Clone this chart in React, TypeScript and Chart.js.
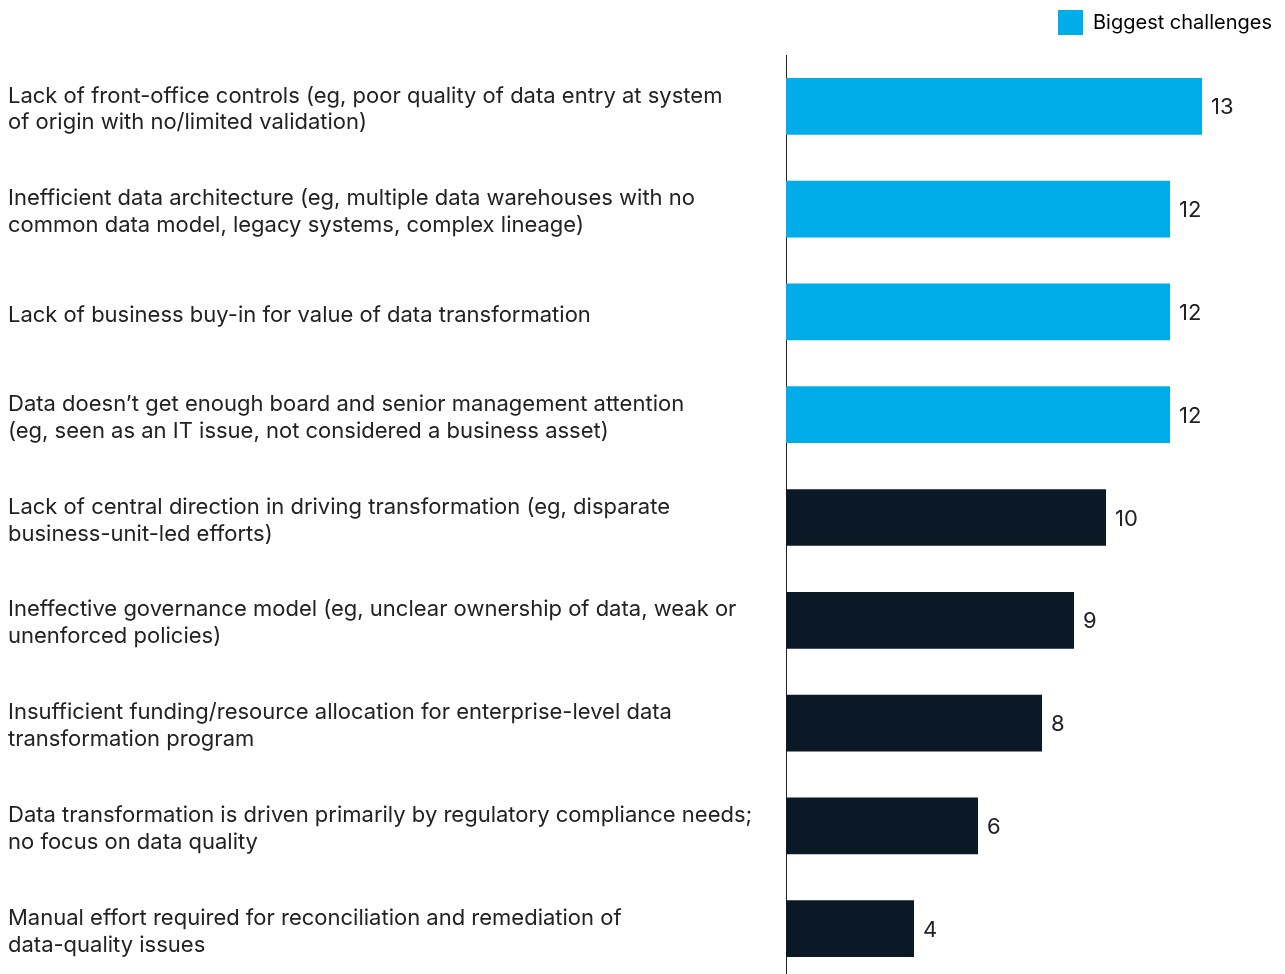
import React, { useEffect, useRef } from "react";
import { Chart, registerables } from "chart.js";

Chart.register(...registerables);

const categories: (string | string[])[] = [
  ["Lack of front-office controls (eg, poor quality of data entry at system", "of origin with no/limited validation)"],
  ["Inefficient data architecture (eg, multiple data warehouses with no", "common data model, legacy systems, complex lineage)"],
  "Lack of business buy-in for value of data transformation",
  ["Data doesn\u2019t get enough board and senior management attention", "(eg, seen as an IT issue, not considered a business asset)"],
  ["Lack of central direction in driving transformation (eg, disparate", "business-unit-led efforts)"],
  ["Ineffective governance model (eg, unclear ownership of data, weak or", "unenforced policies)"],
  ["Insufficient funding/resource allocation for enterprise-level data", "transformation program"],
  ["Data transformation is driven primarily by regulatory compliance needs;", "no focus on data quality"],
  ["Manual effort required for reconciliation and remediation of", "data-quality issues"],
];

const values: number[] = [13, 12, 12, 12, 10, 9, 8, 6, 4];
const isBiggest: boolean[] = [true, true, true, true, false, false, false, false, false];
const legendLabel = "Biggest challenges";

const BLUE = "#00ADE9";
const DARK = "#0B1927";
const TEXT = "#222222";
const FONT = "Inter, Roboto, 'Liberation Sans', sans-serif";

const valueLabels = {
  id: "valueLabels",
  afterDatasetsDraw(chart: any) {
    const ctx = chart.ctx;
    const meta = chart.getDatasetMeta(0);
    ctx.save();
    ctx.font = `22px ${FONT}`;
    ctx.fillStyle = TEXT;
    ctx.textAlign = "left";
    ctx.textBaseline = "middle";
    meta.data.forEach((bar: any, i: number) => {
      ctx.fillText(String(values[i]), bar.x + 9, bar.y + 1.5);
    });
    ctx.restore();
  },
};

export default function App() {
  const ref = useRef<HTMLCanvasElement | null>(null);
  useEffect(() => {
    if (!ref.current) return;
    const chart = new Chart(ref.current, {
      type: "bar",
      data: {
        labels: categories,
        datasets: [
          {
            label: legendLabel,
            data: values,
            backgroundColor: isBiggest.map((b) => (b ? BLUE : DARK)),
            borderWidth: 0,
            categoryPercentage: 1,
            barPercentage: 0.552,
          },
        ],
      },
      options: {
        indexAxis: "y",
        animation: false,
        responsive: false,
        maintainAspectRatio: false,
        layout: { padding: { left: 8, right: 3, top: 0, bottom: 0 } },
        plugins: {
          tooltip: { enabled: false },
          legend: {
            position: "top",
            align: "end",
            labels: {
              boxWidth: 25,
              boxHeight: 25,
              padding: 10,
              color: TEXT,
              font: { family: FONT, size: 20 },
              generateLabels: () => [
                {
                  text: legendLabel,
                  fillStyle: BLUE,
                  strokeStyle: BLUE,
                  lineWidth: 0,
                  hidden: false,
                  datasetIndex: 0,
                },
              ],
            },
          },
        },
        scales: {
          x: {
            position: "top",
            min: 0,
            max: 15.5,
            grid: { display: false },
            border: { display: false },
            ticks: { display: false },
            afterFit: (s: any) => {
              s.height = 10;
            },
          },
          y: {
            grid: { display: false, drawTicks: false },
            border: { display: true, color: "#222222", width: 1 },
            ticks: {
              autoSkip: false,
              crossAlign: "far",
              labelOffset: 3,
              color: TEXT,
              font: { family: FONT, size: 22, lineHeight: 1.225 },
            },
            afterFit: (s: any) => {
              s.width = 778;
              s.paddingTop = 0;
              s.paddingBottom = 0;
            },
          },
        },
      },
      plugins: [valueLabels],
    });
    return () => chart.destroy();
  }, []);

  return (
    <div
      style={{
        position: "fixed",
        top: 0,
        left: 0,
        width: 1285,
        height: 974,
        overflow: "hidden",
        background: "#ffffff",
      }}
    >
      <canvas ref={ref} width={1285} height={980} style={{ display: "block" }} />
    </div>
  );
}
